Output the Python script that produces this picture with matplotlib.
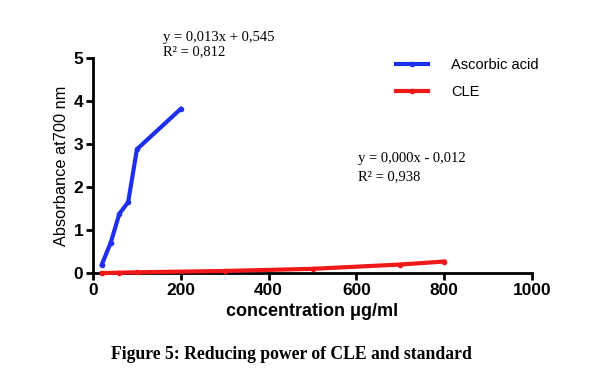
import matplotlib
matplotlib.use("Agg")
import matplotlib.pyplot as plt

# data
asc_conc = [20, 40, 60, 80, 100, 200]
asc_abs = [0.2, 0.7, 1.38, 1.65, 2.88, 3.82]
cle_conc = [20, 60, 100, 300, 500, 700, 800]
cle_abs = [0.0, 0.01, 0.02, 0.05, 0.1, 0.2, 0.27]

xticks = [0, 200, 400, 600, 800, 1000]
yticks = [0, 1, 2, 3, 4, 5]

fig = plt.figure(figsize=(6.08, 3.82), dpi=100)
ax = fig.add_axes([0.153, 0.285, 0.722, 0.563])

ax.plot(asc_conc, asc_abs, '-', color='#1f2ff0', lw=3, marker='o', ms=3,
        label='Ascorbic acid', clip_on=False, zorder=3)
ax.plot(cle_conc, cle_abs, '-', color='#f01818', lw=3, marker='o', ms=3,
        label='CLE', clip_on=False, zorder=3)

ax.set_xlim(0, 1000)
ax.set_ylim(0, 5)
ax.set_xticks(xticks)
ax.set_yticks(yticks)
for s in ['top', 'right']:
    ax.spines[s].set_visible(False)
for s in ['left', 'bottom']:
    ax.spines[s].set_linewidth(2)
ax.tick_params(width=2, length=5, direction='out', labelsize=12.5, pad=2)
for lbl in ax.get_xticklabels() + ax.get_yticklabels():
    lbl.set_fontweight('bold')
    lbl.set_family('Liberation Sans')

ax.set_xlabel('concentration μg/ml', fontsize=13, fontweight='bold',
              family='Liberation Sans', labelpad=4)
ax.set_ylabel('Absorbance at700 nm', fontsize=11.8, family='Liberation Sans',
              labelpad=3)

ax.legend(loc='upper left', bbox_to_anchor=(0.66, 1.06), frameon=False,
          prop={'family': 'Liberation Sans', 'size': 10.5}, handlelength=2.2,
          labelspacing=0.9, handletextpad=1.6)

fig.text(0.268, 0.893, 'y = 0,013x + 0,545', fontsize=10.5, family='Liberation Serif')
fig.text(0.268, 0.855, 'R² = 0,812', fontsize=10.5, family='Liberation Serif')
fig.text(0.588, 0.575, 'y = 0,000x - 0,012', fontsize=10.5, family='Liberation Serif')
fig.text(0.588, 0.527, 'R² = 0,938', fontsize=10.5, family='Liberation Serif')

fig.text(0.48, 0.06, 'Figure 5: Reducing power of CLE and standard', ha='center',
         fontsize=12.7, fontweight='bold', family='Liberation Serif')

fig.savefig('out.png', dpi=100)
